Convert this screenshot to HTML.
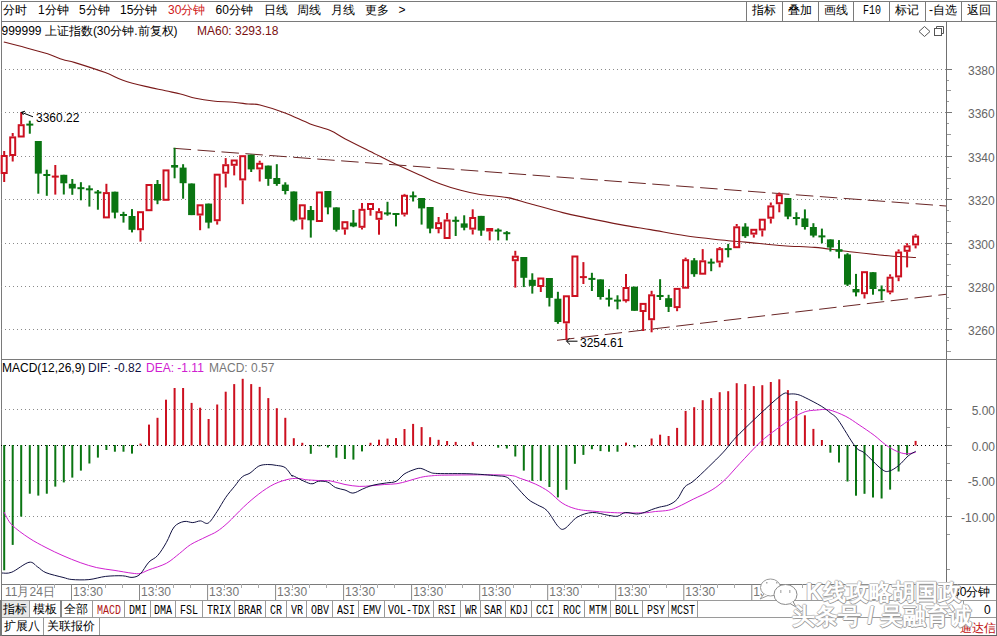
<!DOCTYPE html>
<html><head><meta charset="utf-8">
<style>
html,body{margin:0;padding:0;background:#fff;}
body{width:997px;height:636px;position:relative;overflow:hidden;font-family:"Liberation Sans",sans-serif;}
.t{position:absolute;white-space:nowrap;line-height:14px;}
.c{text-align:center;}
.m{font-family:"Liberation Mono",monospace;font-size:12px;transform:scaleX(0.833);transform-origin:0 0;}
svg{position:absolute;left:0;top:0;}
</style></head><body>
<svg width="997" height="636" viewBox="0 0 997 636">
<rect x="1" y="1" width="995" height="1" fill="#7a7a7a"/>
<rect x="1" y="21" width="995" height="1" fill="#7a7a7a"/>
<rect x="1" y="1" width="1" height="635" fill="#7a7a7a"/>
<rect x="996" y="1" width="1" height="635" fill="#7a7a7a"/>
<rect x="946" y="21" width="1" height="563" fill="#707070"/>
<rect x="1" y="359" width="995" height="1" fill="#7a7a7a"/>
<rect x="1" y="584" width="995" height="1" fill="#7a7a7a"/>
<rect x="1" y="600" width="962" height="1" fill="#9a9a9a"/>
<rect x="1" y="617" width="962" height="1" fill="#9a9a9a"/>
<rect x="0" y="635" width="997" height="2" fill="#606060"/>
<rect x="746" y="1" width="1" height="20" fill="#7a7a7a"/>
<rect x="782" y="1" width="1" height="20" fill="#7a7a7a"/>
<rect x="818" y="1" width="1" height="20" fill="#7a7a7a"/>
<rect x="853" y="1" width="1" height="20" fill="#7a7a7a"/>
<rect x="889" y="1" width="1" height="20" fill="#7a7a7a"/>
<rect x="925" y="1" width="1" height="20" fill="#7a7a7a"/>
<rect x="961" y="1" width="1" height="20" fill="#7a7a7a"/>
<rect x="1" y="601" width="28" height="16" fill="#e8e8e8"/>
<rect x="29" y="600" width="1" height="17" fill="#9a9a9a"/>
<rect x="60" y="600" width="1" height="17" fill="#9a9a9a"/>
<rect x="92" y="600" width="1" height="17" fill="#9a9a9a"/>
<rect x="124" y="600" width="1" height="17" fill="#9a9a9a"/>
<rect x="150" y="600" width="1" height="17" fill="#9a9a9a"/>
<rect x="175" y="600" width="1" height="17" fill="#9a9a9a"/>
<rect x="202" y="600" width="1" height="17" fill="#9a9a9a"/>
<rect x="234" y="600" width="1" height="17" fill="#9a9a9a"/>
<rect x="265" y="600" width="1" height="17" fill="#9a9a9a"/>
<rect x="286" y="600" width="1" height="17" fill="#9a9a9a"/>
<rect x="306" y="600" width="1" height="17" fill="#9a9a9a"/>
<rect x="332" y="600" width="1" height="17" fill="#9a9a9a"/>
<rect x="358" y="600" width="1" height="17" fill="#9a9a9a"/>
<rect x="384" y="600" width="1" height="17" fill="#9a9a9a"/>
<rect x="433" y="600" width="1" height="17" fill="#9a9a9a"/>
<rect x="460" y="600" width="1" height="17" fill="#9a9a9a"/>
<rect x="480" y="600" width="1" height="17" fill="#9a9a9a"/>
<rect x="505" y="600" width="1" height="17" fill="#9a9a9a"/>
<rect x="531" y="600" width="1" height="17" fill="#9a9a9a"/>
<rect x="558" y="600" width="1" height="17" fill="#9a9a9a"/>
<rect x="584" y="600" width="1" height="17" fill="#9a9a9a"/>
<rect x="610" y="600" width="1" height="17" fill="#9a9a9a"/>
<rect x="642" y="600" width="1" height="17" fill="#9a9a9a"/>
<rect x="668" y="600" width="1" height="17" fill="#9a9a9a"/>
<rect x="697" y="600" width="1" height="17" fill="#9a9a9a"/>
<rect x="43" y="617" width="1" height="18" fill="#9a9a9a"/>
<rect x="99" y="617" width="1" height="18" fill="#9a9a9a"/>
<rect x="0" y="600" width="2" height="36" fill="#777"/>
<rect x="60" y="600" width="2" height="17" fill="#888"/>
<rect x="957" y="584" width="1" height="16" fill="#9a9a9a"/>
<rect x="963" y="600" width="33" height="1" fill="#9a9a9a"/>
<rect x="963" y="600" width="1" height="17" fill="#9a9a9a"/>
<rect x="963" y="617" width="33" height="1" fill="#9a9a9a"/>
<line x1="1" y1="69.5" x2="946" y2="69.5" stroke="#8a8a8a" stroke-width="1" stroke-dasharray="1 3"/>
<line x1="1" y1="112.5" x2="946" y2="112.5" stroke="#8a8a8a" stroke-width="1" stroke-dasharray="1 3"/>
<line x1="1" y1="156.5" x2="946" y2="156.5" stroke="#8a8a8a" stroke-width="1" stroke-dasharray="1 3"/>
<line x1="1" y1="199.5" x2="946" y2="199.5" stroke="#8a8a8a" stroke-width="1" stroke-dasharray="1 3"/>
<line x1="1" y1="243.5" x2="946" y2="243.5" stroke="#8a8a8a" stroke-width="1" stroke-dasharray="1 3"/>
<line x1="1" y1="286.5" x2="946" y2="286.5" stroke="#8a8a8a" stroke-width="1" stroke-dasharray="1 3"/>
<line x1="1" y1="329.5" x2="946" y2="329.5" stroke="#8a8a8a" stroke-width="1" stroke-dasharray="1 3"/>
<line x1="1" y1="409.5" x2="946" y2="409.5" stroke="#8a8a8a" stroke-width="1" stroke-dasharray="1 3"/>
<line x1="1" y1="445.5" x2="946" y2="445.5" stroke="#000" stroke-width="1" stroke-dasharray="1 3"/>
<line x1="1" y1="480.5" x2="946" y2="480.5" stroke="#8a8a8a" stroke-width="1" stroke-dasharray="1 3"/>
<line x1="1" y1="516.5" x2="946" y2="516.5" stroke="#8a8a8a" stroke-width="1" stroke-dasharray="1 3"/>
<path d="M3.8,42.0 C7.3,42.9 17.7,45.5 25.0,47.5 C32.3,49.5 41.3,51.8 47.6,53.8 C53.9,55.8 58.1,58.1 62.7,59.6 C67.3,61.1 67.9,60.4 75.0,62.6 C82.1,64.8 97.3,69.7 105.3,72.6 C113.3,75.5 116.2,77.9 122.9,80.2 C129.6,82.5 138.3,84.7 145.4,86.4 C152.5,88.2 159.7,89.4 165.5,90.7 C171.3,92.0 175.5,92.8 180.5,94.0 C185.5,95.2 190.2,97.0 195.6,98.2 C201.0,99.4 206.8,100.3 213.1,101.0 C219.4,101.7 227.3,101.7 233.2,102.2 C239.0,102.7 243.7,103.5 248.2,104.0 C252.7,104.5 253.8,103.5 260.0,105.0 C266.1,106.5 276.7,109.8 285.1,113.0 C293.5,116.2 302.7,121.0 310.2,123.9 C317.7,126.8 324.4,128.1 330.3,130.6 C336.2,133.1 338.6,135.4 345.3,138.9 C352.0,142.4 362.0,147.2 370.4,151.4 C378.8,155.6 387.1,160.0 395.5,164.0 C403.9,168.0 413.0,172.0 420.5,175.3 C428.0,178.6 433.9,181.5 440.6,184.0 C447.3,186.5 454.1,188.6 460.7,190.3 C467.3,192.1 472.2,193.3 480.0,194.5 C487.8,195.7 499.2,196.0 507.6,197.6 C516.0,199.2 521.0,201.3 530.2,203.8 C539.4,206.3 553.5,210.3 562.7,212.6 C571.9,214.9 575.7,215.6 585.3,217.6 C594.9,219.6 609.5,222.6 620.4,224.6 C631.3,226.6 639.6,227.8 650.5,229.6 C661.4,231.4 672.6,233.8 685.6,235.7 C698.6,237.5 718.2,239.6 728.2,240.7 C738.2,241.8 736.1,241.3 745.3,242.1 C754.5,242.9 771.6,244.8 783.2,245.7 C794.8,246.6 804.3,246.5 814.8,247.4 C825.3,248.3 834.1,249.8 846.4,251.2 C858.7,252.6 876.9,254.8 888.5,255.8 C900.1,256.9 911.3,257.2 915.9,257.5" fill="none" stroke="#7a1a1a" stroke-width="1.1"/>
<line x1="173.6" y1="148.3" x2="946" y2="206" stroke="#6a2626" stroke-width="1" stroke-dasharray="17.5 6.5"/>
<line x1="557" y1="340.3" x2="946" y2="294.3" stroke="#6a2626" stroke-width="1" stroke-dasharray="17.5 6.5"/>
<rect x="3.2" y="151.0" width="2" height="4.0" fill="#cc1020"/>
<rect x="3.2" y="174.0" width="2" height="8.0" fill="#cc1020"/>
<rect x="1.7" y="156.0" width="5" height="17.0" fill="none" stroke="#cc1020" stroke-width="2"/>
<rect x="11.7" y="133.0" width="2" height="3.4" fill="#cc1020"/>
<rect x="11.7" y="156.0" width="2" height="5.5" fill="#cc1020"/>
<rect x="10.2" y="137.4" width="5" height="17.6" fill="none" stroke="#cc1020" stroke-width="2"/>
<rect x="20.2" y="112.0" width="2" height="12.2" fill="#cc1020"/>
<rect x="18.7" y="125.2" width="5" height="11.3" fill="none" stroke="#cc1020" stroke-width="2"/>
<rect x="26.3" y="123.6" width="7" height="2" fill="#0a7512"/>
<rect x="28.8" y="120.7" width="2" height="13.0" fill="#0a7512"/>
<rect x="37.3" y="141.0" width="2" height="52.7" fill="#0a7512"/>
<rect x="34.8" y="141.0" width="7" height="32.6" fill="#0a7512"/>
<rect x="43.3" y="174.0" width="7" height="2" fill="#0a7512"/>
<rect x="45.8" y="169.7" width="2" height="26.1" fill="#0a7512"/>
<rect x="51.8" y="175.6" width="7" height="2" fill="#cc1020"/>
<rect x="54.3" y="165.0" width="2" height="29.6" fill="#cc1020"/>
<rect x="62.8" y="174.8" width="2" height="19.7" fill="#0a7512"/>
<rect x="60.3" y="174.8" width="7" height="8.5" fill="#0a7512"/>
<rect x="71.3" y="179.0" width="2" height="15.8" fill="#0a7512"/>
<rect x="68.8" y="183.8" width="7" height="4.7" fill="#0a7512"/>
<rect x="77.4" y="187.2" width="7" height="2" fill="#0a7512"/>
<rect x="79.9" y="182.2" width="2" height="18.1" fill="#0a7512"/>
<rect x="85.9" y="188.3" width="7" height="2" fill="#0a7512"/>
<rect x="88.4" y="185.4" width="2" height="21.2" fill="#0a7512"/>
<rect x="94.4" y="191.5" width="7" height="2" fill="#0a7512"/>
<rect x="96.9" y="190.0" width="2" height="19.7" fill="#0a7512"/>
<rect x="105.4" y="183.8" width="2" height="8.3" fill="#cc1020"/>
<rect x="103.9" y="193.1" width="5" height="24.3" fill="none" stroke="#cc1020" stroke-width="2"/>
<rect x="113.9" y="191.7" width="2" height="26.7" fill="#0a7512"/>
<rect x="111.4" y="191.7" width="7" height="20.9" fill="#0a7512"/>
<rect x="120.0" y="214.0" width="7" height="2" fill="#0a7512"/>
<rect x="122.5" y="211.8" width="2" height="10.8" fill="#0a7512"/>
<rect x="131.0" y="209.1" width="2" height="23.3" fill="#0a7512"/>
<rect x="128.5" y="216.0" width="7" height="13.8" fill="#0a7512"/>
<rect x="139.5" y="230.2" width="2" height="11.4" fill="#cc1020"/>
<rect x="138.0" y="212.2" width="5" height="17.0" fill="none" stroke="#cc1020" stroke-width="2"/>
<rect x="146.5" y="185.0" width="5" height="25.2" fill="none" stroke="#cc1020" stroke-width="2"/>
<rect x="156.5" y="180.0" width="2" height="24.2" fill="#0a7512"/>
<rect x="154.0" y="184.0" width="7" height="16.5" fill="#0a7512"/>
<rect x="163.5" y="170.4" width="5" height="29.4" fill="none" stroke="#cc1020" stroke-width="2"/>
<rect x="173.6" y="147.8" width="2" height="30.5" fill="#0a7512"/>
<rect x="171.1" y="165.0" width="7" height="2.6" fill="#0a7512"/>
<rect x="182.1" y="164.2" width="2" height="34.5" fill="#0a7512"/>
<rect x="179.6" y="167.6" width="7" height="15.6" fill="#0a7512"/>
<rect x="190.6" y="183.5" width="2" height="31.6" fill="#0a7512"/>
<rect x="188.1" y="183.5" width="7" height="31.6" fill="#0a7512"/>
<rect x="199.1" y="215.5" width="2" height="14.7" fill="#cc1020"/>
<rect x="197.6" y="205.3" width="5" height="9.2" fill="none" stroke="#cc1020" stroke-width="2"/>
<rect x="207.6" y="203.6" width="2" height="24.8" fill="#0a7512"/>
<rect x="205.1" y="203.6" width="7" height="19.0" fill="#0a7512"/>
<rect x="216.2" y="221.2" width="2" height="3.4" fill="#cc1020"/>
<rect x="214.7" y="174.7" width="5" height="45.5" fill="none" stroke="#cc1020" stroke-width="2"/>
<rect x="224.7" y="158.1" width="2" height="6.1" fill="#cc1020"/>
<rect x="224.7" y="173.7" width="2" height="13.8" fill="#cc1020"/>
<rect x="223.2" y="165.2" width="5" height="7.5" fill="none" stroke="#cc1020" stroke-width="2"/>
<rect x="233.2" y="165.8" width="2" height="9.6" fill="#cc1020"/>
<rect x="231.7" y="160.5" width="5" height="4.3" fill="none" stroke="#cc1020" stroke-width="2"/>
<rect x="241.7" y="180.4" width="2" height="23.8" fill="#cc1020"/>
<rect x="240.2" y="156.2" width="5" height="23.2" fill="none" stroke="#cc1020" stroke-width="2"/>
<rect x="250.2" y="154.7" width="2" height="17.3" fill="#0a7512"/>
<rect x="247.7" y="154.7" width="7" height="14.7" fill="#0a7512"/>
<rect x="258.7" y="160.7" width="2" height="2.1" fill="#cc1020"/>
<rect x="258.7" y="169.4" width="2" height="12.1" fill="#cc1020"/>
<rect x="257.2" y="163.8" width="5" height="4.6" fill="none" stroke="#cc1020" stroke-width="2"/>
<rect x="267.3" y="165.6" width="2" height="20.2" fill="#0a7512"/>
<rect x="264.8" y="165.6" width="7" height="13.3" fill="#0a7512"/>
<rect x="275.8" y="164.2" width="2" height="21.6" fill="#0a7512"/>
<rect x="273.3" y="178.0" width="7" height="6.0" fill="#0a7512"/>
<rect x="284.3" y="182.3" width="2" height="12.1" fill="#0a7512"/>
<rect x="281.8" y="184.6" width="7" height="6.4" fill="#0a7512"/>
<rect x="292.8" y="191.5" width="2" height="30.0" fill="#0a7512"/>
<rect x="290.3" y="191.5" width="7" height="28.8" fill="#0a7512"/>
<rect x="301.3" y="219.5" width="2" height="10.0" fill="#cc1020"/>
<rect x="299.8" y="205.3" width="5" height="13.2" fill="none" stroke="#cc1020" stroke-width="2"/>
<rect x="309.8" y="206.0" width="2" height="31.6" fill="#0a7512"/>
<rect x="307.3" y="210.0" width="7" height="10.3" fill="#0a7512"/>
<rect x="316.9" y="192.5" width="5" height="28.5" fill="none" stroke="#cc1020" stroke-width="2"/>
<rect x="326.9" y="191.0" width="2" height="23.3" fill="#0a7512"/>
<rect x="324.4" y="191.0" width="7" height="16.4" fill="#0a7512"/>
<rect x="335.4" y="207.4" width="2" height="24.2" fill="#0a7512"/>
<rect x="332.9" y="207.4" width="7" height="22.4" fill="#0a7512"/>
<rect x="343.9" y="229.5" width="2" height="5.2" fill="#cc1020"/>
<rect x="342.4" y="222.2" width="5" height="6.3" fill="none" stroke="#cc1020" stroke-width="2"/>
<rect x="352.4" y="210.0" width="2" height="17.2" fill="#0a7512"/>
<rect x="349.9" y="222.6" width="7" height="3.8" fill="#0a7512"/>
<rect x="361.0" y="203.0" width="2" height="5.8" fill="#cc1020"/>
<rect x="361.0" y="227.8" width="2" height="1.7" fill="#cc1020"/>
<rect x="359.5" y="209.8" width="5" height="17.0" fill="none" stroke="#cc1020" stroke-width="2"/>
<rect x="369.5" y="210.0" width="2" height="5.7" fill="#cc1020"/>
<rect x="368.0" y="204.0" width="5" height="5.0" fill="none" stroke="#cc1020" stroke-width="2"/>
<rect x="378.0" y="208.2" width="2" height="3.0" fill="#cc1020"/>
<rect x="378.0" y="219.8" width="2" height="14.9" fill="#cc1020"/>
<rect x="376.5" y="212.2" width="5" height="6.6" fill="none" stroke="#cc1020" stroke-width="2"/>
<rect x="384.0" y="212.4" width="7" height="2" fill="#0a7512"/>
<rect x="386.5" y="201.8" width="2" height="13.9" fill="#0a7512"/>
<rect x="392.5" y="213.0" width="7" height="2" fill="#0a7512"/>
<rect x="395.0" y="214.0" width="2" height="12.4" fill="#0a7512"/>
<rect x="403.5" y="193.9" width="2" height="0.9" fill="#cc1020"/>
<rect x="403.5" y="214.6" width="2" height="1.9" fill="#cc1020"/>
<rect x="402.0" y="195.8" width="5" height="17.8" fill="none" stroke="#cc1020" stroke-width="2"/>
<rect x="409.6" y="195.3" width="7" height="2" fill="#0a7512"/>
<rect x="412.1" y="191.5" width="2" height="10.0" fill="#0a7512"/>
<rect x="420.6" y="198.0" width="2" height="26.6" fill="#0a7512"/>
<rect x="418.1" y="198.0" width="7" height="10.4" fill="#0a7512"/>
<rect x="429.1" y="207.0" width="2" height="26.3" fill="#0a7512"/>
<rect x="426.6" y="207.0" width="7" height="21.6" fill="#0a7512"/>
<rect x="437.6" y="217.0" width="2" height="5.2" fill="#cc1020"/>
<rect x="437.6" y="229.1" width="2" height="4.2" fill="#cc1020"/>
<rect x="436.1" y="223.2" width="5" height="4.9" fill="none" stroke="#cc1020" stroke-width="2"/>
<rect x="446.1" y="213.0" width="2" height="6.5" fill="#cc1020"/>
<rect x="444.6" y="220.5" width="5" height="17.5" fill="none" stroke="#cc1020" stroke-width="2"/>
<rect x="452.2" y="219.8" width="7" height="2" fill="#0a7512"/>
<rect x="454.7" y="216.5" width="2" height="19.5" fill="#0a7512"/>
<rect x="463.2" y="215.3" width="2" height="15.0" fill="#0a7512"/>
<rect x="460.7" y="223.4" width="7" height="4.3" fill="#0a7512"/>
<rect x="471.7" y="209.3" width="2" height="7.7" fill="#cc1020"/>
<rect x="471.7" y="229.6" width="2" height="4.9" fill="#cc1020"/>
<rect x="470.2" y="218.0" width="5" height="10.6" fill="none" stroke="#cc1020" stroke-width="2"/>
<rect x="480.2" y="215.9" width="2" height="19.9" fill="#0a7512"/>
<rect x="477.7" y="215.9" width="7" height="14.7" fill="#0a7512"/>
<rect x="488.7" y="231.5" width="2" height="8.9" fill="#cc1020"/>
<rect x="487.2" y="229.0" width="5" height="1.5" fill="none" stroke="#cc1020" stroke-width="2"/>
<rect x="494.7" y="229.6" width="7" height="2" fill="#0a7512"/>
<rect x="497.2" y="228.4" width="2" height="12.0" fill="#0a7512"/>
<rect x="503.3" y="232.2" width="7" height="2" fill="#0a7512"/>
<rect x="505.8" y="231.1" width="2" height="9.3" fill="#0a7512"/>
<rect x="514.3" y="250.8" width="2" height="4.9" fill="#cc1020"/>
<rect x="514.3" y="261.2" width="2" height="26.4" fill="#cc1020"/>
<rect x="512.8" y="256.7" width="5" height="3.5" fill="none" stroke="#cc1020" stroke-width="2"/>
<rect x="522.8" y="257.0" width="2" height="30.1" fill="#0a7512"/>
<rect x="520.3" y="257.0" width="7" height="20.8" fill="#0a7512"/>
<rect x="531.3" y="273.3" width="2" height="20.3" fill="#0a7512"/>
<rect x="528.8" y="279.8" width="7" height="6.1" fill="#0a7512"/>
<rect x="539.8" y="287.0" width="2" height="5.0" fill="#cc1020"/>
<rect x="538.3" y="278.5" width="5" height="7.5" fill="none" stroke="#cc1020" stroke-width="2"/>
<rect x="548.4" y="278.0" width="2" height="28.5" fill="#0a7512"/>
<rect x="545.9" y="278.0" width="7" height="19.9" fill="#0a7512"/>
<rect x="556.9" y="291.8" width="2" height="32.0" fill="#0a7512"/>
<rect x="554.4" y="298.7" width="7" height="23.3" fill="#0a7512"/>
<rect x="565.4" y="323.3" width="2" height="16.9" fill="#cc1020"/>
<rect x="563.9" y="296.3" width="5" height="26.0" fill="none" stroke="#cc1020" stroke-width="2"/>
<rect x="572.4" y="256.5" width="5" height="39.5" fill="none" stroke="#cc1020" stroke-width="2"/>
<rect x="579.9" y="276.1" width="7" height="2" fill="#cc1020"/>
<rect x="582.4" y="262.1" width="2" height="21.9" fill="#cc1020"/>
<rect x="588.4" y="277.9" width="7" height="2" fill="#0a7512"/>
<rect x="590.9" y="272.8" width="2" height="18.2" fill="#0a7512"/>
<rect x="599.5" y="279.4" width="2" height="20.2" fill="#0a7512"/>
<rect x="597.0" y="279.4" width="7" height="17.6" fill="#0a7512"/>
<rect x="605.5" y="297.7" width="7" height="2" fill="#0a7512"/>
<rect x="608.0" y="289.2" width="2" height="17.3" fill="#0a7512"/>
<rect x="614.0" y="299.6" width="7" height="2" fill="#0a7512"/>
<rect x="616.5" y="295.3" width="2" height="14.0" fill="#0a7512"/>
<rect x="625.0" y="274.0" width="2" height="13.0" fill="#cc1020"/>
<rect x="625.0" y="301.2" width="2" height="1.3" fill="#cc1020"/>
<rect x="623.5" y="288.0" width="5" height="12.2" fill="none" stroke="#cc1020" stroke-width="2"/>
<rect x="633.5" y="286.7" width="2" height="24.1" fill="#0a7512"/>
<rect x="631.0" y="286.7" width="7" height="24.1" fill="#0a7512"/>
<rect x="642.1" y="312.0" width="2" height="19.0" fill="#cc1020"/>
<rect x="640.6" y="303.9" width="5" height="7.1" fill="none" stroke="#cc1020" stroke-width="2"/>
<rect x="650.6" y="290.8" width="2" height="3.5" fill="#cc1020"/>
<rect x="650.6" y="320.2" width="2" height="12.1" fill="#cc1020"/>
<rect x="649.1" y="295.3" width="5" height="23.9" fill="none" stroke="#cc1020" stroke-width="2"/>
<rect x="656.6" y="295.0" width="7" height="2" fill="#0a7512"/>
<rect x="659.1" y="279.2" width="2" height="20.8" fill="#0a7512"/>
<rect x="667.6" y="294.8" width="2" height="17.2" fill="#0a7512"/>
<rect x="665.1" y="298.2" width="7" height="8.7" fill="#0a7512"/>
<rect x="676.1" y="308.1" width="2" height="3.1" fill="#cc1020"/>
<rect x="674.6" y="288.9" width="5" height="18.2" fill="none" stroke="#cc1020" stroke-width="2"/>
<rect x="684.6" y="257.6" width="2" height="1.6" fill="#cc1020"/>
<rect x="683.1" y="260.2" width="5" height="27.5" fill="none" stroke="#cc1020" stroke-width="2"/>
<rect x="693.2" y="258.1" width="2" height="18.7" fill="#0a7512"/>
<rect x="690.7" y="260.3" width="7" height="13.9" fill="#0a7512"/>
<rect x="701.7" y="249.1" width="2" height="11.2" fill="#cc1020"/>
<rect x="700.2" y="261.3" width="5" height="12.4" fill="none" stroke="#cc1020" stroke-width="2"/>
<rect x="707.7" y="261.6" width="7" height="2" fill="#0a7512"/>
<rect x="710.2" y="258.6" width="2" height="12.6" fill="#0a7512"/>
<rect x="718.7" y="247.0" width="2" height="1.2" fill="#cc1020"/>
<rect x="718.7" y="262.6" width="2" height="4.7" fill="#cc1020"/>
<rect x="717.2" y="249.2" width="5" height="12.4" fill="none" stroke="#cc1020" stroke-width="2"/>
<rect x="724.7" y="248.1" width="7" height="2" fill="#0a7512"/>
<rect x="727.2" y="243.9" width="2" height="13.5" fill="#0a7512"/>
<rect x="735.7" y="224.0" width="2" height="2.3" fill="#cc1020"/>
<rect x="734.2" y="227.3" width="5" height="19.9" fill="none" stroke="#cc1020" stroke-width="2"/>
<rect x="744.3" y="223.2" width="2" height="14.7" fill="#0a7512"/>
<rect x="741.8" y="226.6" width="7" height="9.6" fill="#0a7512"/>
<rect x="752.8" y="234.6" width="2" height="3.0" fill="#cc1020"/>
<rect x="751.3" y="229.8" width="5" height="3.8" fill="none" stroke="#cc1020" stroke-width="2"/>
<rect x="761.3" y="230.5" width="2" height="6.0" fill="#cc1020"/>
<rect x="759.8" y="219.7" width="5" height="9.8" fill="none" stroke="#cc1020" stroke-width="2"/>
<rect x="769.8" y="202.5" width="2" height="2.9" fill="#cc1020"/>
<rect x="769.8" y="218.7" width="2" height="4.8" fill="#cc1020"/>
<rect x="768.3" y="206.4" width="5" height="11.3" fill="none" stroke="#cc1020" stroke-width="2"/>
<rect x="778.3" y="192.5" width="2" height="1.7" fill="#cc1020"/>
<rect x="778.3" y="204.2" width="2" height="8.1" fill="#cc1020"/>
<rect x="776.8" y="195.2" width="5" height="8.0" fill="none" stroke="#cc1020" stroke-width="2"/>
<rect x="786.9" y="198.0" width="2" height="21.2" fill="#0a7512"/>
<rect x="784.4" y="198.0" width="7" height="18.6" fill="#0a7512"/>
<rect x="792.9" y="217.0" width="7" height="2" fill="#0a7512"/>
<rect x="795.4" y="212.3" width="2" height="13.0" fill="#0a7512"/>
<rect x="803.9" y="209.4" width="2" height="20.2" fill="#0a7512"/>
<rect x="801.4" y="218.4" width="7" height="8.6" fill="#0a7512"/>
<rect x="812.4" y="223.2" width="2" height="14.2" fill="#0a7512"/>
<rect x="809.9" y="227.0" width="7" height="8.6" fill="#0a7512"/>
<rect x="818.4" y="235.4" width="7" height="2" fill="#0a7512"/>
<rect x="820.9" y="228.6" width="2" height="14.7" fill="#0a7512"/>
<rect x="829.4" y="239.4" width="2" height="12.1" fill="#0a7512"/>
<rect x="826.9" y="239.4" width="7" height="8.1" fill="#0a7512"/>
<rect x="838.0" y="240.1" width="2" height="18.3" fill="#0a7512"/>
<rect x="835.5" y="249.2" width="7" height="2.6" fill="#0a7512"/>
<rect x="846.5" y="253.2" width="2" height="32.8" fill="#0a7512"/>
<rect x="844.0" y="254.4" width="7" height="30.2" fill="#0a7512"/>
<rect x="855.0" y="273.9" width="2" height="22.5" fill="#0a7512"/>
<rect x="852.5" y="289.0" width="7" height="3.4" fill="#0a7512"/>
<rect x="863.5" y="294.2" width="2" height="4.3" fill="#cc1020"/>
<rect x="862.0" y="272.2" width="5" height="21.0" fill="none" stroke="#cc1020" stroke-width="2"/>
<rect x="872.0" y="272.2" width="2" height="22.5" fill="#0a7512"/>
<rect x="869.5" y="272.2" width="7" height="16.8" fill="#0a7512"/>
<rect x="878.1" y="289.2" width="7" height="2" fill="#0a7512"/>
<rect x="880.6" y="285.5" width="2" height="14.7" fill="#0a7512"/>
<rect x="889.1" y="274.3" width="2" height="2.4" fill="#cc1020"/>
<rect x="889.1" y="292.5" width="2" height="1.8" fill="#cc1020"/>
<rect x="887.6" y="277.7" width="5" height="13.8" fill="none" stroke="#cc1020" stroke-width="2"/>
<rect x="897.6" y="249.4" width="2" height="2.1" fill="#cc1020"/>
<rect x="897.6" y="277.4" width="2" height="3.8" fill="#cc1020"/>
<rect x="896.1" y="252.5" width="5" height="23.9" fill="none" stroke="#cc1020" stroke-width="2"/>
<rect x="906.1" y="243.2" width="2" height="2.2" fill="#cc1020"/>
<rect x="906.1" y="251.8" width="2" height="15.6" fill="#cc1020"/>
<rect x="904.6" y="246.4" width="5" height="4.4" fill="none" stroke="#cc1020" stroke-width="2"/>
<rect x="914.6" y="234.2" width="2" height="1.4" fill="#cc1020"/>
<rect x="914.6" y="245.4" width="2" height="3.0" fill="#cc1020"/>
<rect x="913.1" y="236.6" width="5" height="7.8" fill="none" stroke="#cc1020" stroke-width="2"/>
<path d="M21.5 112.3 L33 116.8 M21.5 112.3 L25 111.2 M21.5 112.3 L23.5 115" stroke="#000" stroke-width="1" fill="none"/>
<path d="M566.5 341.2 L577.5 341.2 M566.5 341.2 L569.5 338.2 M566.5 341.2 L570 344.5" stroke="#000" stroke-width="1" fill="none"/>
<rect x="3.2" y="445" width="2" height="125.3" fill="#0a7512"/>
<rect x="11.7" y="445" width="2" height="99.9" fill="#0a7512"/>
<rect x="20.2" y="445" width="2" height="71.6" fill="#0a7512"/>
<rect x="28.8" y="445" width="2" height="48.7" fill="#0a7512"/>
<rect x="37.3" y="445" width="2" height="50.6" fill="#0a7512"/>
<rect x="45.8" y="445" width="2" height="48.7" fill="#0a7512"/>
<rect x="54.3" y="445" width="2" height="41.6" fill="#0a7512"/>
<rect x="62.8" y="445" width="2" height="37.4" fill="#0a7512"/>
<rect x="71.3" y="445" width="2" height="32.6" fill="#0a7512"/>
<rect x="79.9" y="445" width="2" height="25.6" fill="#0a7512"/>
<rect x="88.4" y="445" width="2" height="18.5" fill="#0a7512"/>
<rect x="96.9" y="445" width="2" height="12.6" fill="#0a7512"/>
<rect x="105.4" y="445" width="2" height="5.0" fill="#0a7512"/>
<rect x="113.9" y="445" width="2" height="6.7" fill="#0a7512"/>
<rect x="122.5" y="445" width="2" height="6.7" fill="#0a7512"/>
<rect x="131.0" y="445" width="2" height="8.6" fill="#0a7512"/>
<rect x="139.5" y="443.6" width="2" height="1.9" fill="#cc1020"/>
<rect x="148.0" y="424.6" width="2" height="20.9" fill="#cc1020"/>
<rect x="156.5" y="417.8" width="2" height="27.7" fill="#cc1020"/>
<rect x="165.0" y="399.7" width="2" height="45.8" fill="#cc1020"/>
<rect x="173.6" y="388.0" width="2" height="57.5" fill="#cc1020"/>
<rect x="182.1" y="388.0" width="2" height="57.5" fill="#cc1020"/>
<rect x="190.6" y="402.9" width="2" height="42.6" fill="#cc1020"/>
<rect x="199.1" y="407.7" width="2" height="37.8" fill="#cc1020"/>
<rect x="207.6" y="419.0" width="2" height="26.5" fill="#cc1020"/>
<rect x="216.2" y="404.5" width="2" height="41.0" fill="#cc1020"/>
<rect x="224.7" y="391.7" width="2" height="53.8" fill="#cc1020"/>
<rect x="233.2" y="384.1" width="2" height="61.4" fill="#cc1020"/>
<rect x="241.7" y="378.8" width="2" height="66.7" fill="#cc1020"/>
<rect x="250.2" y="384.1" width="2" height="61.4" fill="#cc1020"/>
<rect x="258.7" y="386.9" width="2" height="58.6" fill="#cc1020"/>
<rect x="267.3" y="398.1" width="2" height="47.4" fill="#cc1020"/>
<rect x="275.8" y="408.2" width="2" height="37.3" fill="#cc1020"/>
<rect x="284.3" y="417.8" width="2" height="27.7" fill="#cc1020"/>
<rect x="292.8" y="438.2" width="2" height="7.3" fill="#cc1020"/>
<rect x="301.3" y="442.8" width="2" height="2.7" fill="#cc1020"/>
<rect x="309.8" y="445" width="2" height="8.8" fill="#0a7512"/>
<rect x="318.4" y="445" width="2" height="1.4" fill="#0a7512"/>
<rect x="326.9" y="445" width="2" height="2.5" fill="#0a7512"/>
<rect x="335.4" y="445" width="2" height="12.7" fill="#0a7512"/>
<rect x="343.9" y="445" width="2" height="14.0" fill="#0a7512"/>
<rect x="352.4" y="445" width="2" height="14.6" fill="#0a7512"/>
<rect x="361.0" y="445" width="2" height="6.4" fill="#0a7512"/>
<rect x="369.5" y="442.8" width="2" height="2.7" fill="#cc1020"/>
<rect x="378.0" y="439.7" width="2" height="5.8" fill="#cc1020"/>
<rect x="386.5" y="438.6" width="2" height="6.9" fill="#cc1020"/>
<rect x="395.0" y="438.1" width="2" height="7.4" fill="#cc1020"/>
<rect x="403.5" y="429.0" width="2" height="16.5" fill="#cc1020"/>
<rect x="412.1" y="423.9" width="2" height="21.6" fill="#cc1020"/>
<rect x="420.6" y="427.1" width="2" height="18.4" fill="#cc1020"/>
<rect x="429.1" y="437.2" width="2" height="8.3" fill="#cc1020"/>
<rect x="437.6" y="439.8" width="2" height="5.7" fill="#cc1020"/>
<rect x="446.1" y="441.0" width="2" height="4.5" fill="#cc1020"/>
<rect x="454.7" y="441.9" width="2" height="3.6" fill="#cc1020"/>
<rect x="471.7" y="441.9" width="2" height="3.6" fill="#cc1020"/>
<rect x="497.2" y="445" width="2" height="2.7" fill="#0a7512"/>
<rect x="505.8" y="445" width="2" height="3.5" fill="#0a7512"/>
<rect x="514.3" y="445" width="2" height="11.5" fill="#0a7512"/>
<rect x="522.8" y="445" width="2" height="25.6" fill="#0a7512"/>
<rect x="531.3" y="445" width="2" height="35.8" fill="#0a7512"/>
<rect x="539.8" y="445" width="2" height="35.8" fill="#0a7512"/>
<rect x="548.4" y="445" width="2" height="42.0" fill="#0a7512"/>
<rect x="556.9" y="445" width="2" height="52.4" fill="#0a7512"/>
<rect x="565.4" y="445" width="2" height="44.8" fill="#0a7512"/>
<rect x="573.9" y="445" width="2" height="18.8" fill="#0a7512"/>
<rect x="582.4" y="445" width="2" height="9.9" fill="#0a7512"/>
<rect x="590.9" y="445" width="2" height="4.2" fill="#0a7512"/>
<rect x="599.5" y="445" width="2" height="6.1" fill="#0a7512"/>
<rect x="608.0" y="445" width="2" height="6.7" fill="#0a7512"/>
<rect x="616.5" y="445" width="2" height="6.7" fill="#0a7512"/>
<rect x="625.0" y="442.6" width="2" height="2.9" fill="#cc1020"/>
<rect x="633.5" y="445" width="2" height="2.4" fill="#0a7512"/>
<rect x="650.6" y="438.5" width="2" height="7.0" fill="#cc1020"/>
<rect x="659.1" y="434.7" width="2" height="10.8" fill="#cc1020"/>
<rect x="667.6" y="436.0" width="2" height="9.5" fill="#cc1020"/>
<rect x="676.1" y="427.9" width="2" height="17.6" fill="#cc1020"/>
<rect x="684.6" y="410.9" width="2" height="34.6" fill="#cc1020"/>
<rect x="693.2" y="407.2" width="2" height="38.3" fill="#cc1020"/>
<rect x="701.7" y="400.2" width="2" height="45.3" fill="#cc1020"/>
<rect x="710.2" y="398.1" width="2" height="47.4" fill="#cc1020"/>
<rect x="718.7" y="392.2" width="2" height="53.3" fill="#cc1020"/>
<rect x="727.2" y="391.2" width="2" height="54.3" fill="#cc1020"/>
<rect x="735.7" y="383.2" width="2" height="62.3" fill="#cc1020"/>
<rect x="744.3" y="384.1" width="2" height="61.4" fill="#cc1020"/>
<rect x="752.8" y="386.1" width="2" height="59.4" fill="#cc1020"/>
<rect x="761.3" y="385.2" width="2" height="60.3" fill="#cc1020"/>
<rect x="769.8" y="382.0" width="2" height="63.5" fill="#cc1020"/>
<rect x="778.3" y="379.3" width="2" height="66.2" fill="#cc1020"/>
<rect x="786.9" y="390.1" width="2" height="55.4" fill="#cc1020"/>
<rect x="795.4" y="401.0" width="2" height="44.5" fill="#cc1020"/>
<rect x="803.9" y="415.3" width="2" height="30.2" fill="#cc1020"/>
<rect x="812.4" y="428.9" width="2" height="16.6" fill="#cc1020"/>
<rect x="820.9" y="440.0" width="2" height="5.5" fill="#cc1020"/>
<rect x="829.4" y="445" width="2" height="7.7" fill="#0a7512"/>
<rect x="838.0" y="445" width="2" height="17.5" fill="#0a7512"/>
<rect x="846.5" y="445" width="2" height="36.5" fill="#0a7512"/>
<rect x="855.0" y="445" width="2" height="50.7" fill="#0a7512"/>
<rect x="863.5" y="445" width="2" height="48.8" fill="#0a7512"/>
<rect x="872.0" y="445" width="2" height="52.5" fill="#0a7512"/>
<rect x="880.6" y="445" width="2" height="53.5" fill="#0a7512"/>
<rect x="889.1" y="445" width="2" height="44.6" fill="#0a7512"/>
<rect x="897.6" y="445" width="2" height="26.5" fill="#0a7512"/>
<rect x="906.1" y="445" width="2" height="10.1" fill="#0a7512"/>
<rect x="914.6" y="440.9" width="2" height="4.6" fill="#cc1020"/>
<path d="M4.0,512.0 C5.3,514.1 7.6,520.5 11.8,524.8 C16.0,529.1 23.3,534.2 29.0,538.0 C34.7,541.8 40.3,544.6 46.0,547.6 C51.7,550.6 57.3,553.2 63.0,555.7 C68.7,558.2 74.6,560.6 80.2,562.6 C85.8,564.6 91.1,566.3 96.7,567.6 C102.3,568.9 108.1,569.4 114.0,570.3 C119.9,571.2 127.7,572.7 132.0,573.2 C136.3,573.7 137.2,574.0 140.0,573.5 C142.8,573.0 144.4,571.6 148.8,569.9 C153.2,568.2 161.3,566.0 166.4,563.3 C171.5,560.5 175.6,556.5 179.6,553.4 C183.6,550.3 186.2,547.4 190.6,544.6 C195.0,541.9 201.6,539.1 206.0,536.9 C210.4,534.7 213.3,533.8 217.0,531.4 C220.7,529.0 223.6,526.6 228.0,522.6 C232.4,518.6 238.3,512.0 243.4,507.2 C248.5,502.4 253.7,497.9 258.8,494.0 C263.9,490.1 269.1,486.6 274.2,484.1 C279.3,481.6 285.3,479.9 289.6,479.0 C293.9,478.1 297.3,478.5 300.0,478.6 C302.7,478.7 302.6,479.4 305.7,479.7 C308.8,480.0 314.1,480.3 318.3,480.5 C322.5,480.7 326.4,480.3 330.9,481.0 C335.3,481.7 340.3,483.6 345.0,484.5 C349.7,485.4 354.7,486.2 359.2,486.4 C363.7,486.6 367.6,486.0 371.8,485.7 C376.0,485.4 380.1,484.8 384.3,484.5 C388.5,484.2 393.0,484.3 396.9,483.7 C400.8,483.1 404.0,482.1 407.9,481.0 C411.8,479.9 416.6,478.3 420.5,477.4 C424.4,476.5 426.8,476.2 431.5,475.8 C436.2,475.4 436.6,475.2 448.9,475.1 C461.2,475.0 493.6,474.5 505.5,475.1 C517.5,475.7 515.6,477.0 520.6,478.5 C525.6,480.0 531.0,482.0 535.7,484.2 C540.4,486.4 544.5,488.6 548.9,491.7 C553.3,494.8 557.7,500.2 562.1,503.0 C566.5,505.8 570.6,507.4 575.3,508.7 C579.9,510.0 582.9,510.2 590.0,510.9 C597.1,511.6 608.7,512.5 617.7,512.8 C626.7,513.1 637.9,513.0 644.2,512.8 C650.5,512.6 651.4,511.9 655.5,511.5 C659.6,511.1 664.9,511.0 668.7,510.2 C672.5,509.4 674.0,508.6 678.1,506.8 C682.2,505.0 687.5,502.0 693.2,499.2 C698.9,496.4 706.8,493.1 712.1,489.8 C717.5,486.5 720.6,483.8 725.3,479.4 C729.9,475.0 734.2,469.6 740.0,463.4 C745.8,457.2 754.2,447.9 760.3,442.2 C766.3,436.5 770.9,433.4 776.3,429.4 C781.6,425.4 787.6,421.1 792.4,418.2 C797.2,415.2 801.2,413.0 805.2,411.7 C809.2,410.4 812.5,410.4 816.4,410.1 C820.3,409.8 824.0,408.8 828.9,409.8 C833.8,410.9 840.8,413.9 845.8,416.4 C850.8,418.9 854.4,421.8 859.1,424.9 C863.8,428.0 869.8,432.0 874.2,435.3 C878.6,438.6 881.7,442.0 885.5,444.7 C889.3,447.4 893.3,449.8 896.8,451.3 C900.2,452.8 903.1,453.6 906.2,453.8 C909.4,454.0 914.1,452.6 915.7,452.3" fill="none" stroke="#d020d0" stroke-width="1"/>
<path d="M2.0,573.0 C3.6,572.9 7.3,574.0 11.8,572.2 C16.3,570.4 24.7,563.2 29.0,562.3 C33.3,561.4 34.9,565.3 37.7,567.0 C40.5,568.7 41.8,571.0 46.0,572.7 C50.2,574.4 58.7,576.3 63.0,577.4 C67.3,578.5 67.6,579.1 71.9,579.5 C76.2,579.9 83.3,580.1 88.9,579.6 C94.5,579.1 100.1,577.0 105.7,576.4 C111.3,575.8 118.2,575.6 122.6,575.8 C127.0,576.0 129.1,577.6 132.0,577.4 C134.9,577.1 137.2,576.8 140.0,574.3 C142.8,571.8 145.9,565.3 148.8,562.2 C151.7,559.1 154.7,558.9 157.6,555.6 C160.5,552.3 163.7,547.2 166.4,542.4 C169.2,537.6 171.2,530.5 174.1,527.0 C177.0,523.5 180.9,522.2 184.0,521.5 C187.1,520.8 190.1,522.7 192.8,522.6 C195.6,522.5 197.9,520.8 200.5,520.9 C203.1,521.0 205.4,524.6 208.2,523.1 C210.9,521.6 214.1,515.9 217.0,511.6 C219.9,507.3 222.9,501.5 225.8,497.3 C228.7,493.1 231.8,489.7 234.6,486.3 C237.3,482.9 239.7,479.0 242.3,476.8 C244.9,474.6 247.2,474.9 250.0,473.1 C252.8,471.3 255.9,467.5 258.8,466.1 C261.7,464.7 264.7,464.6 267.6,464.5 C270.5,464.4 273.5,464.9 276.4,465.4 C279.3,465.9 282.6,465.8 285.2,467.6 C287.8,469.4 290.6,474.6 291.9,476.0 C293.2,477.4 290.0,474.5 293.1,475.8 C296.2,477.1 306.2,482.8 310.4,483.7 C314.6,484.6 315.4,481.6 318.3,481.3 C321.2,481.0 324.8,481.1 327.7,482.1 C330.6,483.2 332.7,486.3 335.6,487.6 C338.5,488.9 342.1,489.1 345.0,490.0 C347.9,490.9 350.0,493.2 352.9,493.1 C355.8,493.0 359.4,490.4 362.3,489.2 C365.2,488.0 367.6,486.8 370.2,486.0 C372.8,485.2 375.2,484.7 378.0,484.2 C380.8,483.7 383.7,483.4 386.7,482.9 C389.7,482.4 393.2,482.8 396.1,481.3 C399.0,479.9 401.2,476.1 404.0,474.2 C406.8,472.3 410.2,471.0 413.0,470.0 C415.8,469.0 418.0,468.0 420.8,468.4 C423.6,468.8 427.1,471.3 429.9,472.2 C432.7,473.1 431.1,473.2 437.8,473.5 C444.5,473.8 460.3,473.4 470.0,473.8 C479.7,474.2 489.8,475.1 496.0,475.7 C502.2,476.3 504.2,475.9 507.4,477.5 C510.5,479.1 511.4,481.5 514.9,485.1 C518.4,488.7 524.3,495.9 528.1,499.2 C531.9,502.5 534.4,503.0 537.5,504.9 C540.6,506.8 543.5,507.0 547.0,510.6 C550.5,514.2 555.3,523.6 558.3,526.6 C561.3,529.6 561.8,530.1 564.9,528.5 C568.0,526.9 572.6,519.9 577.2,517.2 C581.8,514.5 587.1,512.8 592.3,512.5 C597.5,512.2 604.1,514.7 608.3,515.3 C612.5,515.9 614.9,516.7 617.7,516.2 C620.5,515.7 622.1,512.9 625.3,512.5 C628.4,512.1 633.5,514.0 636.6,514.0 C639.8,514.0 641.7,513.2 644.2,512.5 C646.7,511.8 649.2,510.5 651.7,509.6 C654.2,508.7 656.4,508.0 659.2,507.2 C662.0,506.4 665.7,506.2 668.7,504.9 C671.7,503.6 674.5,502.2 677.2,499.2 C679.9,496.2 682.0,490.0 684.7,487.0 C687.4,484.0 689.3,484.6 693.2,481.3 C697.1,478.0 703.3,472.1 708.3,467.2 C713.3,462.3 718.1,457.8 723.4,452.1 C728.7,446.4 730.6,442.5 740.0,433.2 C749.4,423.9 771.3,403.0 779.5,396.5 C787.7,390.0 786.1,394.5 789.1,394.1 C792.1,393.8 794.5,393.8 797.2,394.4 C799.9,395.0 801.2,395.7 805.2,397.6 C809.2,399.6 816.9,403.5 821.2,406.1 C825.5,408.7 828.0,411.0 830.9,413.3 C833.8,415.6 834.2,414.6 838.3,420.2 C842.4,425.8 850.9,441.1 855.3,446.6 C859.7,452.1 860.3,449.4 864.7,453.2 C869.1,457.0 877.6,466.2 881.7,469.2 C885.8,472.2 886.4,471.7 889.2,471.1 C892.0,470.5 895.6,468.0 898.7,465.5 C901.9,463.0 905.3,458.4 908.1,456.0 C910.9,453.6 914.4,452.1 915.7,451.3" fill="none" stroke="#101040" stroke-width="1"/>
<path d="M924.5 26.5 L930 31.5 L924.5 36.5 L919 31.5 Z" fill="none" stroke="#555" stroke-width="1"/>
<rect x="934.5" y="28.5" width="7" height="7" fill="none" stroke="#555" stroke-width="1"/>
<path d="M936.5 28.5 V26.5 H943.5 V33.5 H941.5" fill="none" stroke="#555" stroke-width="1"/>
<rect x="947" y="69" width="5" height="1" fill="#777"/>
<rect x="947" y="112" width="5" height="1" fill="#777"/>
<rect x="947" y="156" width="5" height="1" fill="#777"/>
<rect x="947" y="199" width="5" height="1" fill="#777"/>
<rect x="947" y="243" width="5" height="1" fill="#777"/>
<rect x="947" y="286" width="5" height="1" fill="#777"/>
<rect x="947" y="329" width="5" height="1" fill="#777"/>
<rect x="947" y="80" width="2" height="1" fill="#999"/>
<rect x="947" y="90" width="4" height="1" fill="#999"/>
<rect x="947" y="101" width="2" height="1" fill="#999"/>
<rect x="947" y="123" width="2" height="1" fill="#999"/>
<rect x="947" y="134" width="4" height="1" fill="#999"/>
<rect x="947" y="145" width="2" height="1" fill="#999"/>
<rect x="947" y="167" width="2" height="1" fill="#999"/>
<rect x="947" y="178" width="4" height="1" fill="#999"/>
<rect x="947" y="188" width="2" height="1" fill="#999"/>
<rect x="947" y="210" width="2" height="1" fill="#999"/>
<rect x="947" y="221" width="4" height="1" fill="#999"/>
<rect x="947" y="232" width="2" height="1" fill="#999"/>
<rect x="947" y="254" width="2" height="1" fill="#999"/>
<rect x="947" y="264" width="4" height="1" fill="#999"/>
<rect x="947" y="275" width="2" height="1" fill="#999"/>
<rect x="947" y="297" width="2" height="1" fill="#999"/>
<rect x="947" y="308" width="4" height="1" fill="#999"/>
<rect x="947" y="318" width="2" height="1" fill="#999"/>
<rect x="947" y="340" width="2" height="1" fill="#999"/>
<rect x="947" y="351" width="4" height="1" fill="#999"/>
<rect x="947" y="409" width="5" height="1" fill="#777"/>
<rect x="947" y="445" width="5" height="1" fill="#777"/>
<rect x="947" y="480" width="5" height="1" fill="#777"/>
<rect x="947" y="516" width="5" height="1" fill="#777"/>
<rect x="947" y="427" width="3" height="1" fill="#999"/>
<rect x="947" y="463" width="3" height="1" fill="#999"/>
<rect x="947" y="498" width="3" height="1" fill="#999"/>
<rect x="947" y="534" width="3" height="1" fill="#999"/>
<rect x="947" y="569" width="3" height="1" fill="#999"/>
<line x1="71.5" y1="584" x2="71.5" y2="600" stroke="#888" stroke-width="1"/>
<line x1="139.5" y1="584" x2="139.5" y2="600" stroke="#888" stroke-width="1"/>
<line x1="207.6" y1="584" x2="207.6" y2="600" stroke="#888" stroke-width="1"/>
<line x1="275.6" y1="584" x2="275.6" y2="600" stroke="#888" stroke-width="1"/>
<line x1="343.6" y1="584" x2="343.6" y2="600" stroke="#888" stroke-width="1"/>
<line x1="411.6" y1="584" x2="411.6" y2="600" stroke="#888" stroke-width="1"/>
<line x1="479.7" y1="584" x2="479.7" y2="600" stroke="#888" stroke-width="1"/>
<line x1="547.7" y1="584" x2="547.7" y2="600" stroke="#888" stroke-width="1"/>
<line x1="615.7" y1="584" x2="615.7" y2="600" stroke="#888" stroke-width="1"/>
<line x1="683.8" y1="584" x2="683.8" y2="600" stroke="#888" stroke-width="1"/>
<line x1="751.8" y1="584" x2="751.8" y2="600" stroke="#888" stroke-width="1"/>
<line x1="20.5" y1="584" x2="20.5" y2="588" stroke="#aaa" stroke-width="1"/>
<line x1="37.5" y1="584" x2="37.5" y2="588" stroke="#aaa" stroke-width="1"/>
<line x1="54.5" y1="584" x2="54.5" y2="588" stroke="#aaa" stroke-width="1"/>
<line x1="88.5" y1="584" x2="88.5" y2="588" stroke="#aaa" stroke-width="1"/>
<line x1="105.5" y1="584" x2="105.5" y2="588" stroke="#aaa" stroke-width="1"/>
<line x1="122.5" y1="584" x2="122.5" y2="588" stroke="#aaa" stroke-width="1"/>
<line x1="156.5" y1="584" x2="156.5" y2="588" stroke="#aaa" stroke-width="1"/>
<line x1="173.5" y1="584" x2="173.5" y2="588" stroke="#aaa" stroke-width="1"/>
<line x1="190.5" y1="584" x2="190.5" y2="588" stroke="#aaa" stroke-width="1"/>
<line x1="224.5" y1="584" x2="224.5" y2="588" stroke="#aaa" stroke-width="1"/>
<line x1="241.5" y1="584" x2="241.5" y2="588" stroke="#aaa" stroke-width="1"/>
<line x1="258.5" y1="584" x2="258.5" y2="588" stroke="#aaa" stroke-width="1"/>
<line x1="292.5" y1="584" x2="292.5" y2="588" stroke="#aaa" stroke-width="1"/>
<line x1="309.5" y1="584" x2="309.5" y2="588" stroke="#aaa" stroke-width="1"/>
<line x1="326.5" y1="584" x2="326.5" y2="588" stroke="#aaa" stroke-width="1"/>
<line x1="360.5" y1="584" x2="360.5" y2="588" stroke="#aaa" stroke-width="1"/>
<line x1="377.5" y1="584" x2="377.5" y2="588" stroke="#aaa" stroke-width="1"/>
<line x1="394.5" y1="584" x2="394.5" y2="588" stroke="#aaa" stroke-width="1"/>
<line x1="428.5" y1="584" x2="428.5" y2="588" stroke="#aaa" stroke-width="1"/>
<line x1="445.5" y1="584" x2="445.5" y2="588" stroke="#aaa" stroke-width="1"/>
<line x1="462.5" y1="584" x2="462.5" y2="588" stroke="#aaa" stroke-width="1"/>
<line x1="496.5" y1="584" x2="496.5" y2="588" stroke="#aaa" stroke-width="1"/>
<line x1="513.5" y1="584" x2="513.5" y2="588" stroke="#aaa" stroke-width="1"/>
<line x1="530.5" y1="584" x2="530.5" y2="588" stroke="#aaa" stroke-width="1"/>
<line x1="564.5" y1="584" x2="564.5" y2="588" stroke="#aaa" stroke-width="1"/>
<line x1="581.5" y1="584" x2="581.5" y2="588" stroke="#aaa" stroke-width="1"/>
<line x1="598.5" y1="584" x2="598.5" y2="588" stroke="#aaa" stroke-width="1"/>
<line x1="632.5" y1="584" x2="632.5" y2="588" stroke="#aaa" stroke-width="1"/>
<line x1="649.5" y1="584" x2="649.5" y2="588" stroke="#aaa" stroke-width="1"/>
<line x1="666.5" y1="584" x2="666.5" y2="588" stroke="#aaa" stroke-width="1"/>
<line x1="700.5" y1="584" x2="700.5" y2="588" stroke="#aaa" stroke-width="1"/>
<line x1="717.5" y1="584" x2="717.5" y2="588" stroke="#aaa" stroke-width="1"/>
<line x1="734.5" y1="584" x2="734.5" y2="588" stroke="#aaa" stroke-width="1"/>
<line x1="768.5" y1="584" x2="768.5" y2="588" stroke="#aaa" stroke-width="1"/>
<line x1="785.5" y1="584" x2="785.5" y2="588" stroke="#aaa" stroke-width="1"/>
<line x1="802.5" y1="584" x2="802.5" y2="588" stroke="#aaa" stroke-width="1"/>
<line x1="836.5" y1="584" x2="836.5" y2="588" stroke="#aaa" stroke-width="1"/>
<line x1="853.5" y1="584" x2="853.5" y2="588" stroke="#aaa" stroke-width="1"/>
<line x1="870.5" y1="584" x2="870.5" y2="588" stroke="#aaa" stroke-width="1"/>
</svg>
<div class="t" style="left:3px;top:3px;font-size:12px;color:#000;">分时</div><div class="t" style="left:38px;top:3px;font-size:12px;color:#000;">1分钟</div><div class="t" style="left:79px;top:3px;font-size:12px;color:#000;">5分钟</div><div class="t" style="left:120px;top:3px;font-size:12px;color:#000;">15分钟</div><div class="t" style="left:168px;top:3px;font-size:12px;color:#d01818;">30分钟</div><div class="t" style="left:215.5px;top:3px;font-size:12px;color:#000;">60分钟</div><div class="t" style="left:263.7px;top:3px;font-size:12px;color:#000;">日线</div><div class="t" style="left:296.5px;top:3px;font-size:12px;color:#000;">周线</div><div class="t" style="left:331px;top:3px;font-size:12px;color:#000;">月线</div><div class="t" style="left:364.8px;top:3px;font-size:12px;color:#000;">更多</div><div class="t" style="left:398.5px;top:3px;font-size:12px;color:#000;">&gt;</div><div class="t c" style="left:746px;top:3px;width:36px;font-size:12px;">指标</div><div class="t c" style="left:782px;top:3px;width:36px;font-size:12px;">叠加</div><div class="t c" style="left:818px;top:3px;width:35px;font-size:12px;">画线</div><div class="t m" style="left:862.5px;top:4px;">F10</div><div class="t c" style="left:889px;top:3px;width:36px;font-size:12px;">标记</div><div class="t c" style="left:925px;top:3px;width:36px;font-size:12px;">-自选</div><div class="t c" style="left:961px;top:3px;width:35px;font-size:12px;">返回</div><div class="t" style="left:1.5px;top:24px;font-size:12px;color:#000;">999999 上证指数(30分钟.前复权)</div><div class="t" style="left:197px;top:24px;font-size:12px;color:#7a1010;">MA60: 3293.18</div><div class="t" style="left:36px;top:111px;font-size:12px;color:#000;">3360.22</div><div class="t" style="left:580px;top:336px;font-size:12px;color:#000;">3254.61</div><div class="t" style="left:968px;top:63.5px;font-size:12px;color:#666;">3380</div><div class="t" style="left:968px;top:106.5px;font-size:12px;color:#666;">3360</div><div class="t" style="left:968px;top:150.5px;font-size:12px;color:#666;">3340</div><div class="t" style="left:968px;top:193.5px;font-size:12px;color:#666;">3320</div><div class="t" style="left:968px;top:237.5px;font-size:12px;color:#666;">3300</div><div class="t" style="left:968px;top:280.5px;font-size:12px;color:#666;">3280</div><div class="t" style="left:968px;top:323.5px;font-size:12px;color:#666;">3260</div><div class="t r" style="right:2px;top:403.5px;font-size:12px;color:#666">5.00</div><div class="t r" style="right:2px;top:439.5px;font-size:12px;color:#666">0.00</div><div class="t r" style="right:2px;top:474.5px;font-size:12px;color:#666">-5.00</div><div class="t r" style="right:2px;top:510.5px;font-size:12px;color:#666">-10.00</div><div class="t" style="left:2px;top:361px;font-size:12px;color:#000;">MACD(12,26,9)</div><div class="t" style="left:88px;top:361px;font-size:12px;color:#101040;">DIF: -0.82</div><div class="t" style="left:146px;top:361px;font-size:12px;color:#d020d0;">DEA: -1.11</div><div class="t" style="left:209px;top:361px;font-size:12px;color:#777;">MACD: 0.57</div><div class="t" style="left:5px;top:585px;font-size:12px;color:#777;">11月24日</div><div class="t" style="left:73.0px;top:585px;font-size:12px;color:#777;">13:30</div><div class="t" style="left:141.03px;top:585px;font-size:12px;color:#777;">13:30</div><div class="t" style="left:209.06px;top:585px;font-size:12px;color:#777;">13:30</div><div class="t" style="left:277.09000000000003px;top:585px;font-size:12px;color:#777;">13:30</div><div class="t" style="left:345.12px;top:585px;font-size:12px;color:#777;">13:30</div><div class="t" style="left:413.15px;top:585px;font-size:12px;color:#777;">13:30</div><div class="t" style="left:481.18px;top:585px;font-size:12px;color:#777;">13:30</div><div class="t" style="left:549.21px;top:585px;font-size:12px;color:#777;">13:30</div><div class="t" style="left:617.24px;top:585px;font-size:12px;color:#777;">13:30</div><div class="t" style="left:685.27px;top:585px;font-size:12px;color:#777;">13:30</div><div class="t" style="left:753.3px;top:585px;font-size:12px;color:#777;">13:30</div><div class="t c" style="left:1px;top:602px;width:28px;font-size:12px;">指标</div><div class="t c" style="left:29px;top:602px;width:31px;font-size:12px;">模板</div><div class="t c" style="left:60px;top:602px;width:32px;font-size:12px;">全部</div><div class="t m" style="left:96.5px;top:603.5px;color:#b01818">MACD</div><div class="t m" style="left:128.5px;top:603.5px;color:#000">DMI</div><div class="t m" style="left:154.0px;top:603.5px;color:#000">DMA</div><div class="t m" style="left:180.0px;top:603.5px;color:#000">FSL</div><div class="t m" style="left:206.5px;top:603.5px;color:#000">TRIX</div><div class="t m" style="left:238.0px;top:603.5px;color:#000">BRAR</div><div class="t m" style="left:270.0px;top:603.5px;color:#000">CR</div><div class="t m" style="left:290.5px;top:603.5px;color:#000">VR</div><div class="t m" style="left:310.5px;top:603.5px;color:#000">OBV</div><div class="t m" style="left:336.5px;top:603.5px;color:#000">ASI</div><div class="t m" style="left:362.5px;top:603.5px;color:#000">EMV</div><div class="t m" style="left:388.0px;top:603.5px;color:#000">VOL-TDX</div><div class="t m" style="left:438.0px;top:603.5px;color:#000">RSI</div><div class="t m" style="left:464.5px;top:603.5px;color:#000">WR</div><div class="t m" style="left:484.0px;top:603.5px;color:#000">SAR</div><div class="t m" style="left:509.5px;top:603.5px;color:#000">KDJ</div><div class="t m" style="left:536.0px;top:603.5px;color:#000">CCI</div><div class="t m" style="left:562.5px;top:603.5px;color:#000">ROC</div><div class="t m" style="left:588.5px;top:603.5px;color:#000">MTM</div><div class="t m" style="left:614.5px;top:603.5px;color:#000">BOLL</div><div class="t m" style="left:646.5px;top:603.5px;color:#000">PSY</div><div class="t m" style="left:671.0px;top:603.5px;color:#000">MCST</div><div class="t c" style="left:1px;top:619px;width:42px;font-size:12px;">扩展八</div><div class="t c" style="left:43px;top:619px;width:56px;font-size:12px;">关联报价</div><div class="t" style="left:953px;top:585px;font-size:12px;color:#000;">30分钟</div><div class="t" style="left:984px;top:603px;font-size:12px;color:#000;">0</div><div class="t" style="left:960px;top:621px;font-size:12px;color:#c01010;">通达信</div><svg style="position:absolute;left:0;top:0" width="997" height="636"><ellipse cx="770.5" cy="587.5" rx="10" ry="8.5" fill="#fff" stroke="#9a9a9a" stroke-width="1"/><path d="M764 594 L760 599 L768 595.5" fill="#fff" stroke="#9a9a9a" stroke-width="1"/><ellipse cx="785.5" cy="594.5" rx="11.5" ry="10" fill="#fff" stroke="#8a8a8a" stroke-width="1"/><path d="M790 603.5 L796 607 L793 601.5" fill="#fff" stroke="#8a8a8a" stroke-width="1"/><rect x="766" y="582" width="1.5" height="1.5" fill="#aaa"/><rect x="776" y="582" width="1.5" height="1.5" fill="#aaa"/><rect x="780" y="590" width="1.5" height="3" fill="#bbb"/><rect x="789" y="590" width="1.5" height="3" fill="#bbb"/></svg><div class="t" style="left:806px;top:578px;line-height:28px;font-size:23px;font-weight:bold;color:#fff;text-shadow:1px 0 0 #999,0 1px 0 #999,-1px 0 0 #c8c8c8,0 -1px 0 #c8c8c8;letter-spacing:0px;">K线攻略胡国政</div><div class="t" style="left:792px;top:601.5px;line-height:28px;font-size:23px;font-weight:bold;color:#fff;text-shadow:1px 0 0 #999,0 1px 0 #999,-1px 0 0 #c8c8c8,0 -1px 0 #c8c8c8;letter-spacing:0px;">头条号 / 吴融育诚</div>
</body></html>
